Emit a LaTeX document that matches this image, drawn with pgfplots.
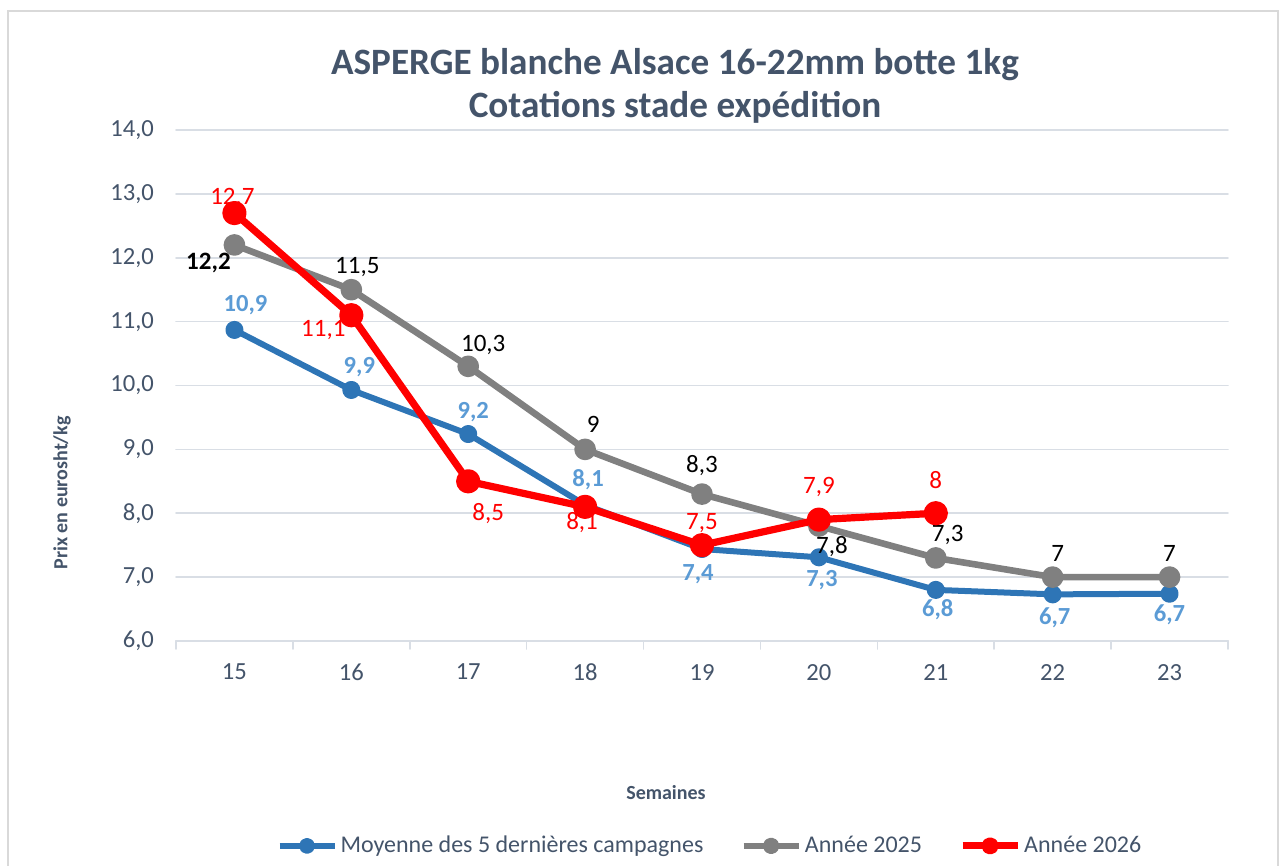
\documentclass[border=0pt]{standalone}
\usepackage{pgfplots}
\usepackage{pgfplotstable}
\pgfplotsset{compat=1.18}
\usepackage{fontspec}
\setmainfont{Carlito}
\definecolor{slate}{HTML}{44546A}
\definecolor{gridc}{HTML}{D9DEE5}
\definecolor{cblue}{HTML}{2E75B6}
\definecolor{lblue}{HTML}{5B9BD5}
\definecolor{cgray}{HTML}{808080}
\definecolor{cred}{HTML}{FF0000}
\definecolor{framec}{HTML}{D9D9D9}

\pgfplotstableread{
x y lab dx dy
15 10.87 10,9 5.5 12.5
16 9.93 9,9 4 11.5
17 9.24 9,2 2.5 11
18 8.13 8,1 1.5 12.5
19 7.44 7,4 -2 -12.5
20 7.31 7,3 1.5 -11.5
21 6.80 6,8 1 -10
22 6.73 6,7 1 -11.5
23 6.74 6,7 0 -10.5
}\tblue

\pgfplotstableread{
x y lab dx dy
15 12.2 \textbf{12,2} -13 -9
16 11.5 11,5 3 11.5
17 10.3 10,3 7.5 10.5
18 9.0 9 4 12.5
19 8.3 8,3 0 14.5
20 7.8 7,8 6.5 -10.5
21 7.3 7,3 6 11.5
22 7.0 7 2.5 12
23 7.0 7 0 12
}\tgray

\pgfplotstableread{
x y lab dx dy
15 12.7 12,7 -1 7.5
16 11.1 11,1 -14 -7.5
17 8.5 8,5 10 -16
18 8.1 8,1 -1.5 -8
19 7.5 7,5 0 11
20 7.9 7,9 0 16.5
21 8.0 8 0 16.5
}\tred

\begin{document}
\begin{tikzpicture}
\path[use as bounding box] (0,0) rectangle (641pt,433pt);
\draw[framec, line width=0.6pt] (4pt,427.5pt) rectangle (639pt,-5pt);
\node[anchor=base, text=slate, font=\fontsize{18.6}{22}\selectfont\bfseries] at (337.5pt,395.5pt) {ASPERGE blanche Alsace 16-22mm botte 1kg};
\node[anchor=base, text=slate, font=\fontsize{18.6}{22}\selectfont\bfseries] at (337.5pt,374pt) {Cotations stade expédition};
\node[rotate=90, text=slate, font=\fontsize{10}{12}\selectfont\bfseries] at (31pt,186.5pt) {Prix en eurosht/kg};
\node[text=slate, font=\fontsize{10}{12}\selectfont\bfseries] at (333pt,36.5pt) {Semaines};
\begin{axis}[
  at={(88pt,112.5pt)}, anchor=south west,
  scale only axis, width=526pt, height=255.5pt,
  xmin=14.5, xmax=23.5, ymin=6, ymax=14,
  xtick={15,...,23}, ytick={6,...,14},
  minor xtick={14.5,15.5,...,23.5},
  axis x line*=bottom, axis y line*=left,
  x axis line style={-, draw=gridc, line width=0.8pt},
  y axis line style={draw=none},
  ymajorgrids, grid style={gridc, line width=0.8pt},
  major tick length=0pt, minor tick length=4pt, tick align=outside,
  minor x tick style={gridc, line width=0.8pt},
  ytick style={draw=none},
  /pgf/number format/assume math mode=true,
  tick label style={text=slate, font=\fontsize{12.3}{14}\selectfont},
  yticklabel style={xshift=-7.5pt, /pgf/number format/.cd, fixed, fixed zerofill, precision=1, use comma},
  xticklabel style={yshift=-8pt, /pgf/number format/.cd, fixed, precision=0},
  clip=false,
  legend columns=-1,
  legend style={at={(0.508,-0.401)}, anchor=center, draw=none, fill=none,
    font=\fontsize{12}{14}\selectfont, text=slate,
    nodes={inner xsep=1.5pt},
    /tikz/every even column/.append style={column sep=17pt}},
  legend cell align=left,
  legend image code/.code={\draw[mark repeat=2,mark phase=2,#1, mark size=2.5pt] plot coordinates {(0pt,0pt)(13.75pt,0pt)(27.5pt,0pt)};},
  line join=round, line cap=round,
]
\addplot[cblue, line width=3pt, mark=*, mark size=3pt, mark options={solid},
  nodes near coords, point meta=explicit symbolic,
  visualization depends on={\thisrow{dx}\as\dx},
  visualization depends on={\thisrow{dy}\as\dy},
  every node near coord/.append style={anchor=center, xshift=\dx pt, yshift=\dy pt, font=\fontsize{12.3}{14}\selectfont\bfseries, text=lblue}]
  table[x=x, y=y, meta=lab]{\tblue};
\addlegendentry{Moyenne des 5 dernières campagnes}
\addplot[cgray, line width=3.3pt, mark=*, mark size=3.75pt, mark options={solid},
  nodes near coords, point meta=explicit symbolic,
  visualization depends on={\thisrow{dx}\as\dx},
  visualization depends on={\thisrow{dy}\as\dy},
  every node near coord/.append style={anchor=center, xshift=\dx pt, yshift=\dy pt, font=\fontsize{12.5}{14}\selectfont, text=black}]
  table[x=x, y=y, meta=lab]{\tgray};
\addlegendentry{Année 2025}
\addplot[cred, line width=3.6pt, mark=*, mark size=4.25pt, mark options={solid},
  nodes near coords, point meta=explicit symbolic,
  visualization depends on={\thisrow{dx}\as\dx},
  visualization depends on={\thisrow{dy}\as\dy},
  every node near coord/.append style={anchor=center, xshift=\dx pt, yshift=\dy pt, font=\fontsize{12.5}{14}\selectfont, text=cred}]
  table[x=x, y=y, meta=lab]{\tred};
\addlegendentry{Année 2026}
\end{axis}
\end{tikzpicture}
\end{document}
